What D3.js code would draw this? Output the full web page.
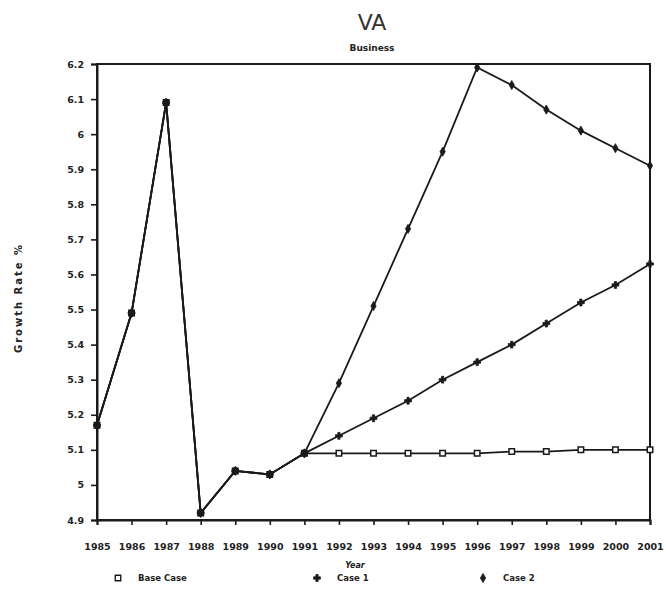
<!DOCTYPE html>
<html>
<head>
<meta charset="utf-8">
<script src="https://cdn.jsdelivr.net/npm/d3@7"></script>
<style>
  body { margin: 0; background: #fff; }
  svg text { font-family: "DejaVu Sans", sans-serif; fill: #222; }
</style>
</head>
<body>
<div id="chart"></div>
<script>
// values
var years = [1985, 1986, 1987, 1988, 1989, 1990, 1991, 1992, 1993, 1994, 1995, 1996, 1997, 1998, 1999, 2000, 2001];
var baseCase = [5.17, 5.49, 6.09, 4.92, 5.04, 5.03, 5.09, 5.09, 5.09, 5.09, 5.09, 5.09, 5.095, 5.095, 5.1, 5.1, 5.1];
var case1 = [5.17, 5.49, 6.09, 4.92, 5.04, 5.03, 5.09, 5.14, 5.19, 5.24, 5.30, 5.35, 5.40, 5.46, 5.52, 5.57, 5.63];
var case2 = [5.17, 5.49, 6.09, 4.92, 5.04, 5.03, 5.09, 5.29, 5.51, 5.73, 5.95, 6.19, 6.14, 6.07, 6.01, 5.96, 5.91];
var yTicks = [4.9, 5, 5.1, 5.2, 5.3, 5.4, 5.5, 5.6, 5.7, 5.8, 5.9, 6, 6.1, 6.2];
var seriesNames = ["Base Case", "Case 1", "Case 2"];

var width = 666, height = 596;
var margin = {top: 64, right: 16, bottom: 76, left: 97};

var svg = d3.select("#chart").append("svg")
    .attr("width", width)
    .attr("height", height);

var x = d3.scaleLinear()
    .domain([years[0], years[years.length - 1]])
    .range([margin.left, width - margin.right]);

var y = d3.scaleLinear()
    .domain([4.9, 6.2])
    .range([height - margin.bottom, margin.top]);

// titles
svg.append("text")
    .attr("x", 372).attr("y", 30)
    .attr("text-anchor", "middle")
    .style("font-size", "22px")
    .style("fill", "#333")
    .text("VA");

svg.append("text")
    .attr("x", 372).attr("y", 51)
    .attr("text-anchor", "middle")
    .style("font-size", "9px")
    .style("font-weight", "bold")
    .text("Business");

// frame
svg.append("rect")
    .attr("x", x.range()[0])
    .attr("y", y.range()[1])
    .attr("width", x.range()[1] - x.range()[0])
    .attr("height", y.range()[0] - y.range()[1])
    .attr("fill", "none")
    .attr("stroke", "#1a1a1a")
    .attr("stroke-width", 2);

var xAxis = svg.append("g")
    .attr("transform", "translate(0," + y.range()[0] + ")")
    .call(d3.axisBottom(x).tickValues(years).tickFormat(d3.format("d")).tickSize(5).tickPadding(18));

var yAxis = svg.append("g")
    .attr("transform", "translate(" + x.range()[0] + ",0)")
    .call(d3.axisLeft(y).tickValues(yTicks).tickFormat(d3.format("")).tickSize(6).tickPadding(7));

[xAxis, yAxis].forEach(function(g) {
    g.select(".domain").attr("stroke", "#1a1a1a").attr("stroke-width", 2);
    g.selectAll(".tick line").attr("stroke", "#1a1a1a").attr("stroke-width", 1.6);
    g.selectAll(".tick text")
        .style("font-family", "DejaVu Sans, sans-serif")
        .style("font-size", "9.5px")
        .style("font-weight", "bold")
        .attr("fill", "#222");
});

// axis labels
svg.append("text")
    .attr("x", 355).attr("y", 568)
    .attr("text-anchor", "middle")
    .style("font-size", "8px")
    .style("font-weight", "bold")
    .style("font-style", "italic")
    .text("Year");

svg.append("text")
    .attr("transform", "translate(22,298) rotate(-90)")
    .attr("text-anchor", "middle")
    .style("font-size", "10px")
    .style("font-weight", "bold")
    .style("letter-spacing", "2px")
    .text("Growth Rate %");

var line = d3.line()
    .x(function(d, i) { return x(years[i]); })
    .y(function(d) { return y(d); });

var series = [baseCase, case1, case2];
var symbols = [d3.symbolSquare, d3.symbolCross, d3.symbolDiamond];
var symSizes = [30, 26, 24];

series.forEach(function(values, k) {
    svg.append("path")
        .datum(values)
        .attr("d", line)
        .attr("fill", "none")
        .attr("stroke", "#1a1a1a")
        .attr("stroke-width", 1.8);
});

series.forEach(function(values, k) {
    svg.selectAll(".mark" + k)
        .data(values)
        .enter()
        .append("path")
        .attr("class", "mark" + k)
        .attr("d", d3.symbol().type(symbols[k]).size(symSizes[k]))
        .attr("transform", function(d, i) { return "translate(" + x(years[i]) + "," + y(d) + ")"; })
        .attr("fill", k == 0 ? "#fff" : "#1a1a1a")
        .attr("stroke", "#1a1a1a")
        .attr("stroke-width", k == 0 ? 1.5 : 0.8);
});

// historical points look like filled blobs
svg.selectAll(".hist")
    .data(baseCase.slice(0, 7))
    .enter()
    .append("rect")
    .attr("class", "hist")
    .attr("x", function(d, i) { return x(years[i]) - 3; })
    .attr("y", function(d) { return y(d) - 3; })
    .attr("width", 6)
    .attr("height", 6)
    .attr("fill", "#1a1a1a");

// legend
var legendX = [118, 317, 483];
var legend = svg.selectAll(".legend")
    .data(seriesNames)
    .enter()
    .append("g")
    .attr("class", "legend")
    .attr("transform", function(d, i) { return "translate(" + legendX[i] + ",581)"; });

legend.append("path")
    .attr("d", function(d, i) { return d3.symbol().type(symbols[i]).size(symSizes[i])(); })
    .attr("transform", "translate(0,-3)")
    .attr("fill", function(d, i) { return i == 0 ? "#fff" : "#1a1a1a"; })
    .attr("stroke", "#1a1a1a")
    .attr("stroke-width", function(d, i) { return i == 0 ? 1.4 : 0.8; });

legend.append("text")
    .attr("x", 20)
    .style("font-size", "8.5px")
    .style("font-weight", "bold")
    .text(function(d) { return d; });
</script>
</body>
</html>
